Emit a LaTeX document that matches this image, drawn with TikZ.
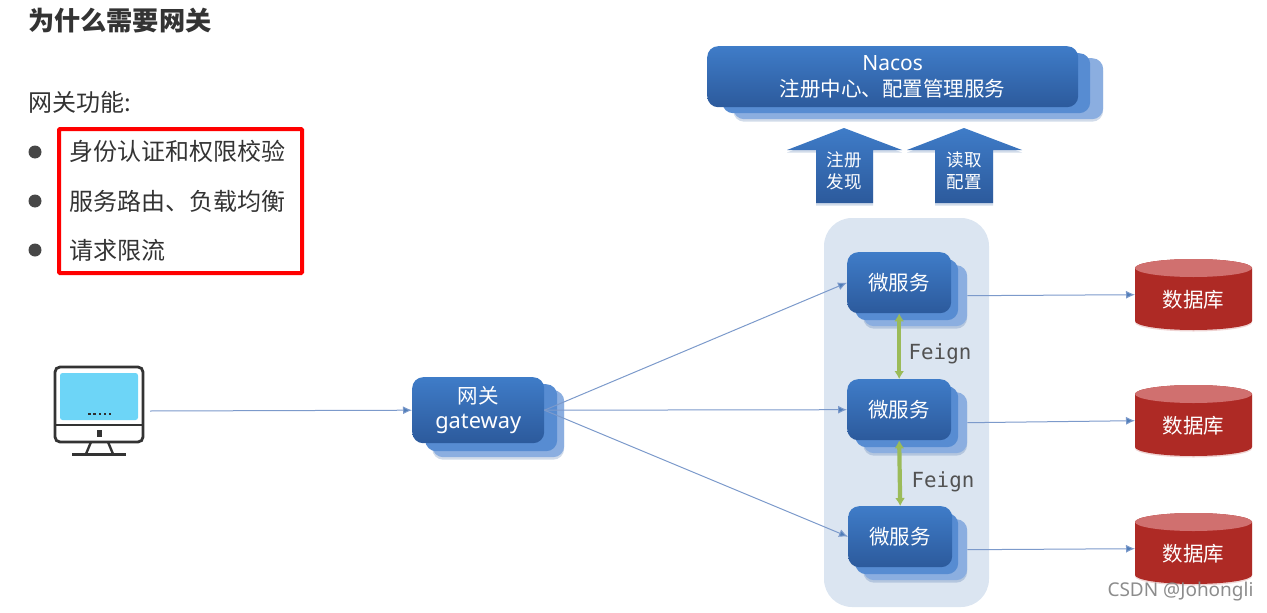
\documentclass[tikz,border=0pt]{standalone}
\usepackage{fontspec}
\setmainfont{Noto Sans CJK SC}
\newfontfamily\latinfont{Noto Sans}
\newfontfamily\feignfont{DejaVu Sans Mono}
\usetikzlibrary{arrows.meta,shadows}
\definecolor{boxtop}{HTML}{3F7CC8}
\definecolor{boxbot}{HTML}{2C5A9C}
\definecolor{midlayer}{HTML}{578CD2}
\definecolor{backlayer}{HTML}{8BAEE0}
\definecolor{panelc}{HTML}{DBE5F1}
\definecolor{linkc}{HTML}{7C9ACB}
\definecolor{headc}{HTML}{4F7DB8}
\definecolor{greenc}{HTML}{9BBB59}
\definecolor{dbred}{HTML}{AE2A25}
\definecolor{dbtop}{HTML}{D0706F}
\definecolor{inkc}{HTML}{333333}
\definecolor{screenc}{HTML}{6DD5F7}
\tikzset{
  softshadow/.style={drop shadow={shadow xshift=0pt,shadow yshift=-2.5pt,opacity=.22,fill=boxbot}},
  layer/.style={rounded corners=11pt,inner sep=0pt,anchor=north west},
  frontbox/.style={layer,top color=boxtop,bottom color=boxbot,text=white,align=center},
  midbox/.style={layer,fill=midlayer},
  backbox/.style={layer,fill=backlayer,softshadow},
  link/.style={draw=linkc,line width=1pt,-{Latex[length=9pt,width=8pt,fill=headc]}},
  feignlink/.style={draw=greenc,line width=4.2pt,{Latex[length=8pt,width=10pt]}-{Latex[length=8pt,width=10pt]}},
  blockarrow/.style={top color=boxtop,bottom color=boxbot,softshadow},
  boxtext/.style={font=\fontsize{20.5}{26}\selectfont},
  lefttext/.style={anchor=west,inner sep=0pt,text=inkc,font=\fontsize{24}{28}\selectfont},
  dot/.style={circle,fill=inkc!90,minimum size=13pt,inner sep=0pt},
  feignlabel/.style={text=inkc!85,inner sep=0pt,font=\fontsize{20.8}{24}\feignfont},
  arrowtext/.style={text=white,inner sep=0pt,font=\fontsize{17.5}{22}\selectfont},
  dbtext/.style={text=white,inner sep=0pt,font=\fontsize{20.5}{24}\selectfont,minimum width=117pt,minimum height=71pt},
}
\newcommand{\servicestack}[3]{%
  \node[backbox,minimum width=104pt,minimum height=61pt] (#1b) at (863,#3+13) {};
  \node[midbox,minimum width=103pt,minimum height=61pt] (#1m) at (855,#3+7) {};
  \node[frontbox,boxtext,minimum width=104pt,minimum height=61pt] (#1) at (#2,#3) {微服务};
}
\newcommand{\dbcylinder}[2]{%
  \path[fill=dbred,drop shadow={shadow xshift=0pt,shadow yshift=-1.5pt,opacity=.2,fill=dbred}]
    (1135,#2+9) arc[start angle=180,end angle=360,x radius=58.5,y radius=9]
    -- (1252,#2+62) arc[start angle=0,end angle=180,x radius=58.5,y radius=9] -- cycle;
  \path[fill=dbtop] (1193.5,#2+9) ellipse[x radius=58.5,y radius=9];
  \node[dbtext,anchor=north west] (#1) at (1135,#2) {\rule{0pt}{27pt}数据库};
}
\begin{document}
\begin{tikzpicture}[x=1pt,y=-1pt]
\useasboundingbox (0,0) rectangle (1267,613);

% left column
\node[lefttext,font=\fontsize{26.2}{28}\selectfont\bfseries] (title) at (28,21) {为什么需要网关};
\node[lefttext] (intro) at (28,102) {网关功能:};
\node[dot] (b1) at (35,152) {};
\node[dot] (b2) at (35,201) {};
\node[dot] (b3) at (35,250) {};
\node[lefttext] (t1) at (69,151) {身份认证和权限校验};
\node[lefttext] (t2) at (69,201) {服务路由、负载均衡};
\node[lefttext] (t3) at (69,250) {请求限流};
\draw[red,line width=4pt,rounded corners=1pt] (59,129) rectangle (302,273);

% monitor
\fill[screenc,rounded corners=2.5pt] (60,373) rectangle (138,420);
\draw[inkc,line width=2.8pt,rounded corners=5pt] (55,367) rectangle (143,442);
\draw[inkc,line width=2.4pt] (55,425) -- (143,425);
\fill[inkc] (97,430) rectangle (102,437);
\foreach \i in {0,...,4} \fill[inkc!90!black] (89.5+\i*5.1-1.2,412.7) rectangle +(2.4,2.6);
\draw[inkc,line width=2.4pt] (91,442) -- (86,454) (108,442) -- (113,454);
\draw[inkc,line width=2.4pt] (72,454.5) -- (126,454.5);
\coordinate (pc) at (150,411);

% panel
\fill[panelc,rounded corners=28pt] (824,218) rectangle (989,607);

% Nacos
\node[backbox,minimum width=370pt,minimum height=61pt] (nacosb) at (733,58) {};
\node[midbox,minimum width=368pt,minimum height=60pt] (nacosm) at (722,53) {};
\node[frontbox,minimum width=371pt,minimum height=61pt,font=\fontsize{20.5}{26}\selectfont] (nacos) at (707,46)
  {{\latinfont\fontsize{21}{26}\selectfont Nacos}\\注册中心、配置管理服务};

% block arrows
\path[blockarrow] (844,128) -- (902,150) -- (873,150) -- (873,203) -- (816,203) -- (816,150) -- (787,150) -- cycle;
\path[blockarrow] (964,128) -- (1022,150) -- (993,150) -- (993,203) -- (935,203) -- (935,150) -- (907,150) -- cycle;
\node[arrowtext] (a1a) at (844,160) {注册};
\node[arrowtext] (a1b) at (844,182) {发现};
\node[arrowtext] (a2a) at (964,160) {读取};
\node[arrowtext] (a2b) at (964,182) {配置};

% gateway
\node[backbox,minimum width=132pt,minimum height=67pt] (gwb) at (432,390) {};
\node[midbox,minimum width=132pt,minimum height=67pt] (gwm) at (425,384) {};
\node[frontbox,minimum width=132pt,minimum height=66pt,font=\fontsize{20.5}{25}\selectfont] (gw) at (412,377)
  {网关\\{\latinfont\fontsize{21.8}{25}\selectfont gateway}};

% services
\servicestack{ms1}{847}{252}
\servicestack{ms2}{847}{379}
\servicestack{ms3}{848}{506}

% databases
\dbcylinder{db1}{259}
\dbcylinder{db2}{385}
\dbcylinder{db3}{513}

% connectors
\draw[link] (pc) -- (gw.west);
\draw[link] (gw.east) -- (ms1.west);
\draw[link] (gw.east) -- (ms2.west);
\draw[link] (gw.east) -- (ms3.west);
\draw[link] (ms1b.east) -- (db1.west);
\draw[link] (ms2b.east) -- (db2.west);
\draw[link] (ms3b.east) -- (db3.west);
\draw[feignlink] (ms1.south) -- (ms2.north);
\draw[feignlink] (ms2.south) -- (ms3.north);
\node[feignlabel] (f1) at (940,353.5) {Feign};
\node[feignlabel] (f2) at (943,481.5) {Feign};

% watermark
\node[inner sep=0pt,text=black!45,font=\fontsize{19}{22}\latinfont] (wm) at (1180.5,592) {CSDN @Johongli};
\end{tikzpicture}
\end{document}
